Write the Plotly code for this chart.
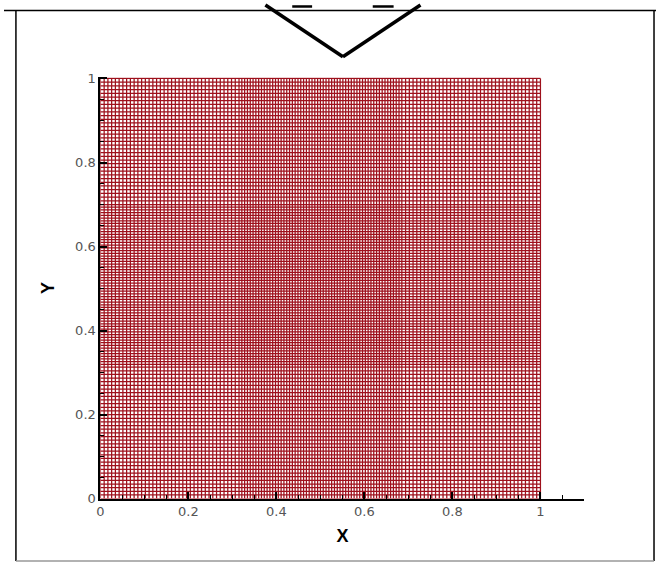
import numpy as np
import plotly.graph_objects as go

# Structured mesh: block boundaries and number of cells per block
x_breaks = [0.0, 0.315, 0.685, 1.0]
x_cells = [37, 58, 37]
y_breaks = [0.0, 0.313, 0.700, 1.0]
y_cells = [36, 60, 34]

x_tick_vals = [0, 0.2, 0.4, 0.6, 0.8, 1]
x_tick_text = ["0", "0.2", "0.4", "0.6", "0.8", "1"]
y_tick_vals = [0, 0.2, 0.4, 0.6, 0.8, 1]
y_tick_text = ["0", "0.2", "0.4", "0.6", "0.8", "1"]

W, H = 656, 571
MESH_COLOR = "rgb(158,16,28)"


def block_nodes(breaks, cells):
    nodes = [breaks[0]]
    for a, b, n in zip(breaks[:-1], breaks[1:], cells):
        nodes.extend(np.linspace(a, b, n + 1)[1:].tolist())
    return nodes


xn = block_nodes(x_breaks, x_cells)
yn = block_nodes(y_breaks, y_cells)
x0, x1 = xn[0], xn[-1]
y0, y1 = yn[0], yn[-1]

mx, my = [], []
for xv in xn:
    mx += [xv, xv, None]
    my += [y0, y1, None]
for yv in yn:
    mx += [x0, x1, None]
    my += [yv, yv, None]

fig = go.Figure()
fig.add_trace(go.Scatter(
    x=mx, y=my, mode="lines",
    line=dict(color=MESH_COLOR, width=1.25),
    hoverinfo="skip", showlegend=False,
))


def px(x):
    return x / W


def py(y):
    return 1 - y / H


shapes = []
# outer frame
frame = dict(type="line", xref="paper", yref="paper",
             line=dict(color="black", width=1.5))
shapes.append({**frame, "x0": px(0), "x1": px(656), "y0": py(4.5), "y1": py(4.5)})
shapes.append({**frame, "x0": px(12), "x1": px(12), "y0": py(4.5), "y1": py(569)})
shapes.append({**frame, "x0": px(654), "x1": px(654), "y0": py(4.5), "y1": py(569)})
shapes.append({**frame, "x0": px(12), "x1": px(654), "y0": py(569), "y1": py(569),
               "line": dict(color="#999999", width=1.5)})
# arrow head at the top
arrow = dict(type="line", xref="paper", yref="paper",
             line=dict(color="black", width=3.5))
shapes.append({**arrow, "x0": px(263), "y0": py(-1), "x1": px(341), "y1": py(52)})
shapes.append({**arrow, "x0": px(419), "y0": py(-1), "x1": px(341), "y1": py(52)})
shapes.append({**arrow, "x0": px(290), "y0": py(0.5), "x1": px(310), "y1": py(0.5),
               "line": dict(color="black", width=2.5)})
shapes.append({**arrow, "x0": px(371), "y0": py(0.5), "x1": px(392), "y1": py(0.5),
               "line": dict(color="black", width=2.5)})

tick_font = dict(family="DejaVu Sans", size=13, color="#555555")
title_font = dict(family="Liberation Sans", size=18, color="black")

fig.update_layout(
    width=W, height=H,
    margin=dict(l=0, r=0, t=0, b=0),
    paper_bgcolor="white", plot_bgcolor="white",
    shapes=shapes,
    xaxis=dict(
        domain=[px(97), px(584)],
        range=[0, 1.1],
        showgrid=False, zeroline=False,
        showline=True, linecolor="black", linewidth=2,
        ticks="inside", ticklen=7, tickwidth=2, tickcolor="black",
        tickvals=x_tick_vals, ticktext=x_tick_text,
        tickfont=tick_font,
        minor=dict(ticks="inside", dtick=0.05, tick0=0, ticklen=4,
                   tickwidth=1, tickcolor="black", showgrid=False),
        title=dict(text="<b>X</b>", font=title_font, standoff=11),
        layer="above traces",
    ),
    yaxis=dict(
        domain=[py(505), py(73)],
        range=[0, 1.003],
        showgrid=False, zeroline=False,
        showline=True, linecolor="black", linewidth=2,
        ticks="inside", ticklen=7, tickwidth=2, tickcolor="black",
        tickvals=y_tick_vals, ticktext=y_tick_text,
        tickfont=tick_font,
        minor=dict(ticks="inside", dtick=0.05, tick0=0, ticklen=4,
                   tickwidth=1, tickcolor="black", showgrid=False),
        title=dict(text="<b>Y</b>", font=title_font, standoff=16),
        layer="above traces",
    ),
)

fig.write_html("out.html")
